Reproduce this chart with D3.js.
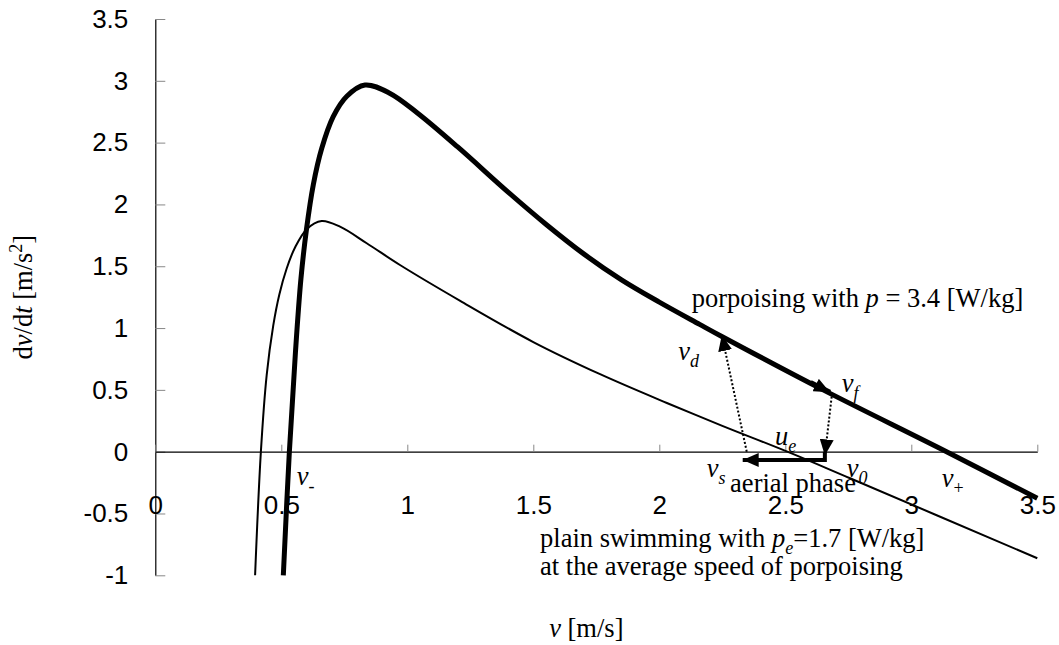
<!DOCTYPE html>
<html>
<head>
<meta charset="utf-8">
<script src="https://cdn.jsdelivr.net/npm/d3@7"></script>
<style>
body { margin: 0; background: #fff; }
text { fill: #000; }
</style>
</head>
<body>
<svg id="chart" width="1059" height="645"></svg>
<script>
// ticks
const xTickValues = [0, 0.5, 1, 1.5, 2, 2.5, 3, 3.5];
const xTickLabels = ["0", "0.5", "1", "1.5", "2", "2.5", "3", "3.5"];
const yTickValues = [-1, -0.5, 0, 0.5, 1, 1.5, 2, 2.5, 3, 3.5];
const yTickLabels = ["-1", "-0.5", "0", "0.5", "1", "1.5", "2", "2.5", "3", "3.5"];

// porpoising with p = 3.4 W/kg (thick curve)
const porpV = [0.508, 0.532, 0.556, 0.578, 0.600, 0.627, 0.660, 0.706, 0.760, 0.832, 0.930, 1.040, 1.200, 1.400, 1.550, 1.700, 1.850, 2.000, 2.160, 2.250, 2.650, 3.140, 3.500];
const porpA = [-1.0, 0.0, 0.80, 1.40, 1.80, 2.16, 2.45, 2.71, 2.875, 2.966, 2.90, 2.74, 2.465, 2.10, 1.84, 1.60, 1.39, 1.21, 1.03, 0.93, 0.50, 0.0, -0.377];

// plain swimming with pe = 1.7 W/kg (thin curve)
const plainV = [0.396, 0.419, 0.442, 0.468, 0.492, 0.521, 0.554, 0.601, 0.660, 0.733, 0.839, 0.971, 1.210, 1.500, 1.765, 2.030, 2.250, 2.508, 2.757, 3.500];
const plainA = [-1.0, 0.0, 0.62, 1.02, 1.27, 1.48, 1.65, 1.80, 1.866, 1.82, 1.686, 1.51, 1.22, 0.887, 0.627, 0.394, 0.209, 0.0, -0.215, -0.862];

// porpoising cycle: v_s -> v_d, v_d -> v_f, v_f -> v_0, aerial phase v_0 -> v_s
const dipV = [2.347, 2.248];
const dipA = [0, 0.944];
const flightV = [2.600, 2.677];
const flightA = [0.56, 0.48];
const jumpV = [2.684, 2.657];
const jumpA = [0.445, -0.03];
const aerialV = [2.657, 2.657, 2.331];
const aerialA = [0, -0.067, -0.067];

// text notes: [v, a, parts]  (kind: i = italic, s = subscript)
const notes = [
  [2.129, 1.168, [["porpoising with ", ""], ["p", "i"], [" = 3.4 [W/kg]", ""]]],
  [2.075, 0.742, [["v", "i"], ["d", "si"]]],
  [2.724, 0.485, [["v", "i"], ["f", "si"]]],
  [2.459, 0.054, [["u", "i"], ["e", "si"]]],
  [2.744, -0.202, [["v", "i"], ["0", "si"]]],
  [2.188, -0.202, [["v", "i"], ["s", "si"]]],
  [2.281, -0.324, [["aerial phase", ""]]],
  [3.121, -0.283, [["v", "i"], ["+", "s"]]],
  [0.561, -0.269, [["v", "i"], ["-", "s"]]],
  [1.527, -0.769, [["plain swimming with ", ""], ["p", "i"], ["e", "si"], ["=1.7 [W/kg]", ""]]],
  [1.527, -0.998, [["at the average speed of porpoising", ""]]]
];

const svg = d3.select("#chart");
const x = d3.scaleLinear().domain([0, 3.5]).range([155.3, 1037.3]);
const y = d3.scaleLinear().domain([-1, 3.5]).range([575.3, 19]);
const serif = "'Liberation Serif', 'Times New Roman', serif";
const sans = "'Liberation Sans', Arial, sans-serif";

svg.append("defs").append("marker")
  .attr("id", "head")
  .attr("markerUnits", "userSpaceOnUse")
  .attr("markerWidth", 17).attr("markerHeight", 14)
  .attr("refX", 16).attr("refY", 7)
  .attr("orient", "auto")
  .append("path")
  .attr("d", "M0,0 L16,7 L0,14 Z")
  .attr("fill", "#000");

// y axis
const yAxis = svg.append("g")
  .attr("transform", `translate(${x(0)},0)`)
  .call(d3.axisLeft(y).tickValues(yTickValues).tickFormat((d, i) => yTickLabels[i])
    .tickSizeInner(-10).tickSizeOuter(0).tickPadding(27));
yAxis.select(".domain").attr("stroke", "#000").attr("stroke-width", 1.2);
yAxis.selectAll(".tick line").attr("stroke", "#888");
yAxis.selectAll("text").attr("font-family", sans).attr("font-size", 26).attr("fill", "#000");

// x axis through zero
const xAxis = svg.append("g")
  .attr("transform", `translate(0,${y(0)})`)
  .call(d3.axisBottom(x).tickValues(xTickValues).tickFormat((d, i) => xTickLabels[i])
    .tickSizeInner(-7).tickSizeOuter(0).tickPadding(44));
xAxis.select(".domain").attr("stroke", "#000").attr("stroke-width", 1.2);
xAxis.selectAll(".tick line").attr("stroke", "#888");
xAxis.selectAll("text").attr("font-family", sans).attr("font-size", 26).attr("fill", "#000");

const line = d3.line().x(d => x(d[0])).y(d => y(d[1])).curve(d3.curveCatmullRom.alpha(0.5));
const straight = d3.line().x(d => x(d[0])).y(d => y(d[1]));

svg.append("path")
  .attr("d", line(plainV.map((v, i) => [v, plainA[i]])))
  .attr("fill", "none").attr("stroke", "#000").attr("stroke-width", 2);

svg.append("path")
  .attr("d", line(porpV.map((v, i) => [v, porpA[i]])))
  .attr("fill", "none").attr("stroke", "#000").attr("stroke-width", 5);

// arrow along the porpoising curve at v_f
svg.append("path")
  .attr("d", straight(flightV.map((v, i) => [v, flightA[i]])))
  .attr("fill", "none").attr("stroke", "#000").attr("stroke-width", 5)
  .attr("marker-end", "url(#head)");

// dotted transitions
[[dipV, dipA], [jumpV, jumpA]].forEach(([vs, as]) => {
  svg.append("path")
    .attr("d", straight(vs.map((v, i) => [v, as[i]])))
    .attr("fill", "none").attr("stroke", "#000").attr("stroke-width", 2)
    .attr("stroke-dasharray", "2,2")
    .attr("marker-end", "url(#head)");
});

// aerial phase
svg.append("path")
  .attr("d", straight(aerialV.map((v, i) => [v, aerialA[i]])))
  .attr("fill", "none").attr("stroke", "#000").attr("stroke-width", 4)
  .attr("marker-end", "url(#head)");

function addText(g, parts) {
  let shift = 0;
  parts.forEach(([s, kind]) => {
    const ts = g.append("tspan").text(s);
    const want = kind.includes("s") ? 7 : kind.includes("u") ? -10 : 0;
    if (want !== shift) { ts.attr("dy", want - shift); shift = want; }
    if (kind.includes("i")) ts.attr("font-style", "italic");
    if (kind.includes("s") || kind.includes("u")) ts.attr("font-size", 18);
  });
}

notes.forEach(([v, a, parts]) => {
  const t = svg.append("text")
    .attr("x", x(v)).attr("y", y(a))
    .attr("font-family", serif).attr("font-size", 26.5);
  addText(t, parts);
});

// axis titles
const xt = svg.append("text")
  .attr("x", (x(0) + x(3.5)) / 2 - 10).attr("y", 636.7)
  .attr("text-anchor", "middle")
  .attr("font-family", serif).attr("font-size", 26.5);
addText(xt, [["v", "i"], [" [m/s]", ""]]);

const yt = svg.append("text")
  .attr("transform", `translate(32,${y(1.25)}) rotate(-90)`)
  .attr("text-anchor", "middle")
  .attr("font-family", serif).attr("font-size", 26.5);
addText(yt, [["d", ""], ["v", "i"], ["/d", ""], ["t", "i"], [" [m/s", ""], ["2", "u"], ["]", ""]]);
</script>
</body>
</html>
